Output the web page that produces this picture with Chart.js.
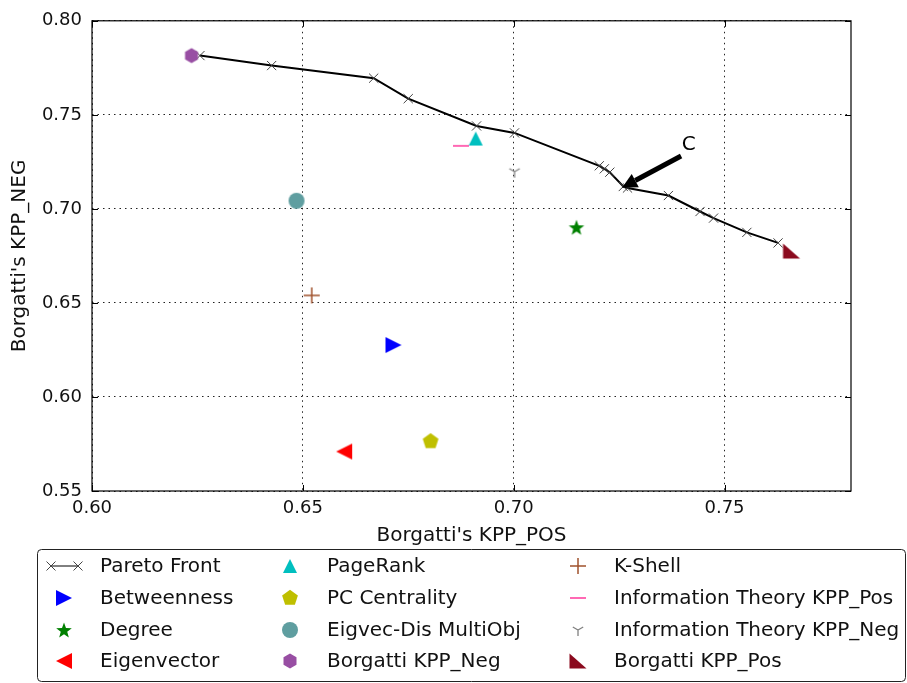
<!DOCTYPE html>
<html>
<head>
<meta charset="utf-8">
<title>Pareto front vs centrality measures</title>
<script src="https://cdn.jsdelivr.net/npm/chart.js@4.4.1/dist/chart.umd.min.js"></script>
<style>
  html, body { margin: 0; padding: 0; background: #fff; }
  canvas { display: block; }
</style>
</head>
<body>
<canvas id="paretoChart" width="907" height="683"></canvas>
<script>
// Pareto front (KPP_POS, KPP_NEG) pairs
const paretoPos = [0.6256, 0.6426, 0.6668, 0.6750, 0.6912, 0.7002, 0.7203, 0.7215, 0.7228, 0.7260, 0.7270, 0.7367, 0.7442, 0.7474, 0.7553, 0.7627];
const paretoNeg = [0.7815, 0.7762, 0.7695, 0.7586, 0.7441, 0.7404, 0.7229, 0.7213, 0.7195, 0.7119, 0.7111, 0.7071, 0.6986, 0.6951, 0.6875, 0.6819];

// single-solution methods
const methodNames = ['Betweenness', 'Degree', 'Eigenvector', 'PageRank', 'PC Centrality', 'Eigvec-Dis MultiObj',
  'Borgatti KPP_Neg', 'K-Shell', 'Information Theory KPP_Pos', 'Information Theory KPP_Neg', 'Borgatti KPP_Pos'];
const methodPos = [0.6715, 0.7149, 0.6598, 0.6910, 0.6803, 0.6485, 0.6236, 0.6521, 0.6875, 0.7002, 0.7659];
const methodNeg = [0.6276, 0.6902, 0.5710, 0.7374, 0.5764, 0.7043, 0.7815, 0.6540, 0.7335, 0.7198, 0.6776];

const xTicks = [0.60, 0.65, 0.70, 0.75];
const yTicks = [0.55, 0.60, 0.65, 0.70, 0.75, 0.80];

// annotation "C": arrow tip, arrow tail, label position
const noteLabel = 'C';
const noteTip = [0.7257, 0.7113];
const noteTail = [0.7397, 0.7281];
const noteText = [0.7415, 0.7339];

const FONT = "'DejaVu Sans', sans-serif";

// --- marker images -------------------------------------------------------
function marker(size, draw) {
  const c = document.createElement('canvas');
  c.width = c.height = size;
  const g = c.getContext('2d');
  g.translate(size / 2, size / 2);
  draw(g);
  return c;
}
function fillPoly(g, pts, color) {
  g.beginPath();
  pts.forEach(([x, y], i) => i ? g.lineTo(x, y) : g.moveTo(x, y));
  g.closePath();
  g.fillStyle = color;
  g.fill();
}
function regular(n, r, start) {
  const pts = [];
  for (let i = 0; i < n; i++) {
    const a = start + i * 2 * Math.PI / n;
    pts.push([r * Math.cos(a), r * Math.sin(a)]);
  }
  return pts;
}
function strokeLines(g, segs, color, width) {
  g.strokeStyle = color;
  g.lineWidth = width;
  g.beginPath();
  segs.forEach(([x1, y1, x2, y2]) => { g.moveTo(x1, y1); g.lineTo(x2, y2); });
  g.stroke();
}

const markerImages = [
  marker(24, g => fillPoly(g, [[8, 0], [-8, -8], [-8, 8]], '#0000ff')),            // triangle right
  marker(24, g => {                                                                   // star
    const pts = [];
    for (let i = 0; i < 10; i++) {
      const r = i % 2 ? 3.4 : 8.2;
      const a = -Math.PI / 2 + i * Math.PI / 5;
      pts.push([r * Math.cos(a), r * Math.sin(a) + 0.8]);
    }
    fillPoly(g, pts, '#008000');
  }),
  marker(24, g => fillPoly(g, [[-8, 0], [8, -8], [8, 8]], '#ff0000')),            // triangle left
  marker(24, g => fillPoly(g, [[0, -7], [-7, 7], [7, 7]], '#00bfbf')),             // triangle up
  marker(24, g => fillPoly(g, regular(5, 8.3, -Math.PI / 2), '#bfbf00')),          // pentagon
  marker(24, g => { g.beginPath(); g.arc(0, 0, 8, 0, Math.PI * 2); g.fillStyle = '#5f9ea0'; g.fill(); }),
  marker(24, g => fillPoly(g, regular(6, 7.5, -Math.PI / 2), '#984ea3')),          // hexagon
  marker(24, g => strokeLines(g, [[-8, 0, 8, 0], [0, -8, 0, 8]], '#a0522d', 1.5)), // plus
  marker(24, g => strokeLines(g, [[-8, 0, 8, 0]], '#ff69b4', 2)),                  // hline
  marker(24, g => strokeLines(g, [[0, 0, 0, 6], [0, 0, -5.2, -3], [0, 0, 5.2, -3]], '#808080', 1.3)), // tri_down
  marker(24, g => fillPoly(g, [[-8.5, -7.5], [-8.5, 7.5], [8.5, 7.5]], '#8b0a1e')) // corner triangle
];

// --- datasets --------------------------------------------------------------
const datasets = [{
  label: 'Pareto Front',
  data: paretoPos.map((x, i) => ({ x, y: paretoNeg[i] })),
  showLine: true,
  borderColor: '#000',
  borderWidth: 2,
  pointStyle: 'crossRot',
  pointRadius: 6.5,
  pointBorderColor: '#444',
  pointBorderWidth: 1,
  order: 1
}];
methodNames.forEach((name, i) => {
  datasets.push({
    label: name,
    data: [{ x: methodPos[i], y: methodNeg[i] }],
    pointStyle: markerImages[i],
    pointRadius: 8,
    order: 0
  });
});

// --- frame, inward ticks, arrow annotation, legend -------------------------
const framePlugin = {
  id: 'frame',
  afterDatasetsDraw(chart) {
    const { ctx, chartArea: a, scales: { x, y } } = chart;
    ctx.save();
    ctx.strokeStyle = '#000';
    ctx.lineWidth = 1.2;
    ctx.strokeRect(a.left, a.top, a.right - a.left, a.bottom - a.top);

    ctx.lineWidth = 1;
    ctx.beginPath();
    xTicks.forEach(v => {
      const px = Math.round(x.getPixelForValue(v)) + 0.5;
      ctx.moveTo(px, a.bottom); ctx.lineTo(px, a.bottom - 6);
      ctx.moveTo(px, a.top); ctx.lineTo(px, a.top + 6);
    });
    yTicks.forEach(v => {
      const py = Math.round(y.getPixelForValue(v)) + 0.5;
      ctx.moveTo(a.left, py); ctx.lineTo(a.left + 6, py);
      ctx.moveTo(a.right, py); ctx.lineTo(a.right - 6, py);
    });
    ctx.stroke();

    // arrow pointing at the Pareto solution "C"
    const tx = x.getPixelForValue(noteTip[0]), ty = y.getPixelForValue(noteTip[1]);
    const sx = x.getPixelForValue(noteTail[0]), sy = y.getPixelForValue(noteTail[1]);
    const ang = Math.atan2(ty - sy, tx - sx);
    const headLen = 15, headHalf = 7.5;
    const bx = tx - headLen * Math.cos(ang), by = ty - headLen * Math.sin(ang);
    ctx.strokeStyle = '#000';
    ctx.lineWidth = 5;
    ctx.beginPath();
    ctx.moveTo(sx, sy);
    ctx.lineTo(bx, by);
    ctx.stroke();
    ctx.fillStyle = '#000';
    ctx.beginPath();
    ctx.moveTo(tx, ty);
    ctx.lineTo(bx + headHalf * Math.sin(ang), by - headHalf * Math.cos(ang));
    ctx.lineTo(bx - headHalf * Math.sin(ang), by + headHalf * Math.cos(ang));
    ctx.closePath();
    ctx.fill();

    ctx.font = '20px ' + FONT;
    ctx.textAlign = 'center';
    ctx.textBaseline = 'middle';
    ctx.fillText(noteLabel, x.getPixelForValue(noteText[0]), y.getPixelForValue(noteText[1]));
    ctx.restore();
  },
  afterDraw(chart) {
    const ctx = chart.ctx;
    const box = { left: 37.5, top: 549.5, right: 905.5, bottom: 681.5 };
    const colMarker = [64, 290, 578];
    const colText = [100, 327, 614];
    const rowY = [566, 598, 630, 661];
    ctx.save();
    ctx.fillStyle = '#fff';
    ctx.strokeStyle = '#222';
    ctx.lineWidth = 1;
    ctx.beginPath();
    ctx.roundRect(box.left, box.top, box.right - box.left, box.bottom - box.top, 4);
    ctx.fill();
    ctx.stroke();

    ctx.font = '20px ' + FONT;
    ctx.textAlign = 'left';
    ctx.textBaseline = 'middle';
    chart.data.datasets.forEach((ds, i) => {
      const col = Math.floor(i / 4), row = i % 4;
      const mx = colMarker[col], my = rowY[row];
      if (i === 0) {
        ctx.strokeStyle = '#000';
        ctx.lineWidth = 1;
        ctx.beginPath();
        ctx.moveTo(mx - 14, my); ctx.lineTo(mx + 14, my);
        ctx.stroke();
        ctx.strokeStyle = '#444';
        [mx - 13, mx + 14].forEach(cx => {
          ctx.beginPath();
          ctx.moveTo(cx - 4.5, my - 4.5); ctx.lineTo(cx + 4.5, my + 4.5);
          ctx.moveTo(cx - 4.5, my + 4.5); ctx.lineTo(cx + 4.5, my - 4.5);
          ctx.stroke();
        });
      } else {
        const img = ds.pointStyle;
        ctx.drawImage(img, mx - img.width / 2, my - img.height / 2);
      }
      ctx.fillStyle = '#111';
      ctx.fillText(ds.label, colText[col], my + 1);
    });
    ctx.restore();
  }
};

const ctx = document.getElementById('paretoChart').getContext('2d');
new Chart(ctx, {
  type: 'scatter',
  data: { datasets },
  plugins: [framePlugin],
  options: {
    responsive: false,
    animation: false,
    layout: { padding: { top: 18, right: 56, bottom: 135, left: 0 } },
    plugins: { legend: { display: false }, tooltip: { enabled: false } },
    scales: {
      x: {
        type: 'linear',
        min: 0.60,
        max: 0.78,
        afterBuildTicks: s => { s.ticks = xTicks.map(value => ({ value })); },
        afterFit: s => { s.height = 57; },
        grid: { color: '#222', lineWidth: 1, drawTicks: false },
        border: { display: false, dash: [1.5, 4] },
        ticks: {
          padding: 7,
          color: '#111',
          font: { family: FONT, size: 18 },
          callback: v => v.toFixed(2)
        },
        title: {
          display: true,
          text: "Borgatti's KPP_POS",
          color: '#111',
          font: { family: FONT, size: 20 },
          padding: { top: 0, bottom: 0 }
        }
      },
      y: {
        type: 'linear',
        min: 0.55,
        max: 0.80,
        afterBuildTicks: s => { s.ticks = yTicks.map(value => ({ value })); },
        afterFit: s => { s.width = 92; },
        grid: { color: '#222', lineWidth: 1, drawTicks: false },
        border: { display: false, dash: [1.5, 4] },
        ticks: {
          padding: 10,
          color: '#111',
          font: { family: FONT, size: 18 },
          callback: v => v.toFixed(2)
        },
        title: {
          display: true,
          text: "Borgatti's KPP_NEG",
          color: '#111',
          font: { family: FONT, size: 20 },
          padding: { top: 8, bottom: 0 }
        }
      }
    }
  }
});
</script>
</body>
</html>
